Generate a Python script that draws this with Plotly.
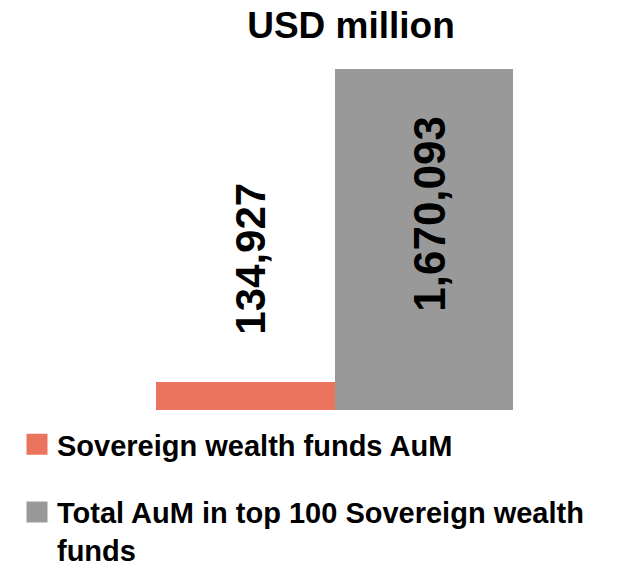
import plotly.graph_objects as go

series_names = ["Sovereign wealth funds AuM", "Total AuM in top 100 Sovereign wealth<br>funds"]
values = [134927, 1670093]
colors = ["#EB745E", "#999999"]
label_texts = [f"{v:,}" for v in values]

FONT = "Liberation Sans, Arial, sans-serif"

fig = go.Figure()
for i, (name, val, col) in enumerate(zip(series_names, values, colors)):
    fig.add_trace(go.Bar(
        x=[i], y=[val], width=1, name=name, marker=dict(color=col, line=dict(width=0)),
        showlegend=False, hoverinfo="skip",
    ))
# legend entries (larger square swatches like the original)
for i, (name, col) in enumerate(zip(series_names, colors)):
    fig.add_trace(go.Scatter(
        x=[None], y=[None], mode="markers", name=name, legendgroup=f"g{i}",
        marker=dict(symbol="square", size=16, color=col, line=dict(width=5, color=col)),
        hoverinfo="skip",
    ))

# value labels (rotated)
fig.add_annotation(x=0, y=values[0], text=f"<b>{label_texts[0]}</b>", textangle=-90,
                   showarrow=False, yanchor="bottom", yshift=46, xshift=5,
                   font=dict(family=FONT, size=42, color="black"))
fig.add_annotation(x=1, y=values[1], text=f"<b>{label_texts[1]}</b>", textangle=-90,
                   showarrow=False, yanchor="top", yshift=-45, xshift=5,
                   font=dict(family=FONT, size=44, color="black"))

fig.update_layout(
    width=639, height=564,
    margin=dict(l=156, r=126, t=69, b=154, autoexpand=False),
    paper_bgcolor="white", plot_bgcolor="white",
    barmode="overlay", bargap=0,
    title=dict(text="<b>USD million</b>", x=351/639, xanchor="center", xref="container",
               y=1-25/564, yanchor="middle", yref="container",
               font=dict(family=FONT, size=37, color="black")),
    xaxis=dict(visible=False, range=[-0.5, 1.5]),
    yaxis=dict(visible=False, range=[0, max(values)]),
    legend=dict(xref="container", yref="container", x=17/639, y=1-419/564,
                xanchor="left", yanchor="top", valign="top", tracegroupgap=27,
                font=dict(family=FONT, size=29, color="black", weight="bold"),
                bgcolor="rgba(0,0,0,0)"),
    showlegend=True,
)

fig.write_html("out.html", config={"displayModeBar": False},
               post_script="document.body.style.margin='0';")
